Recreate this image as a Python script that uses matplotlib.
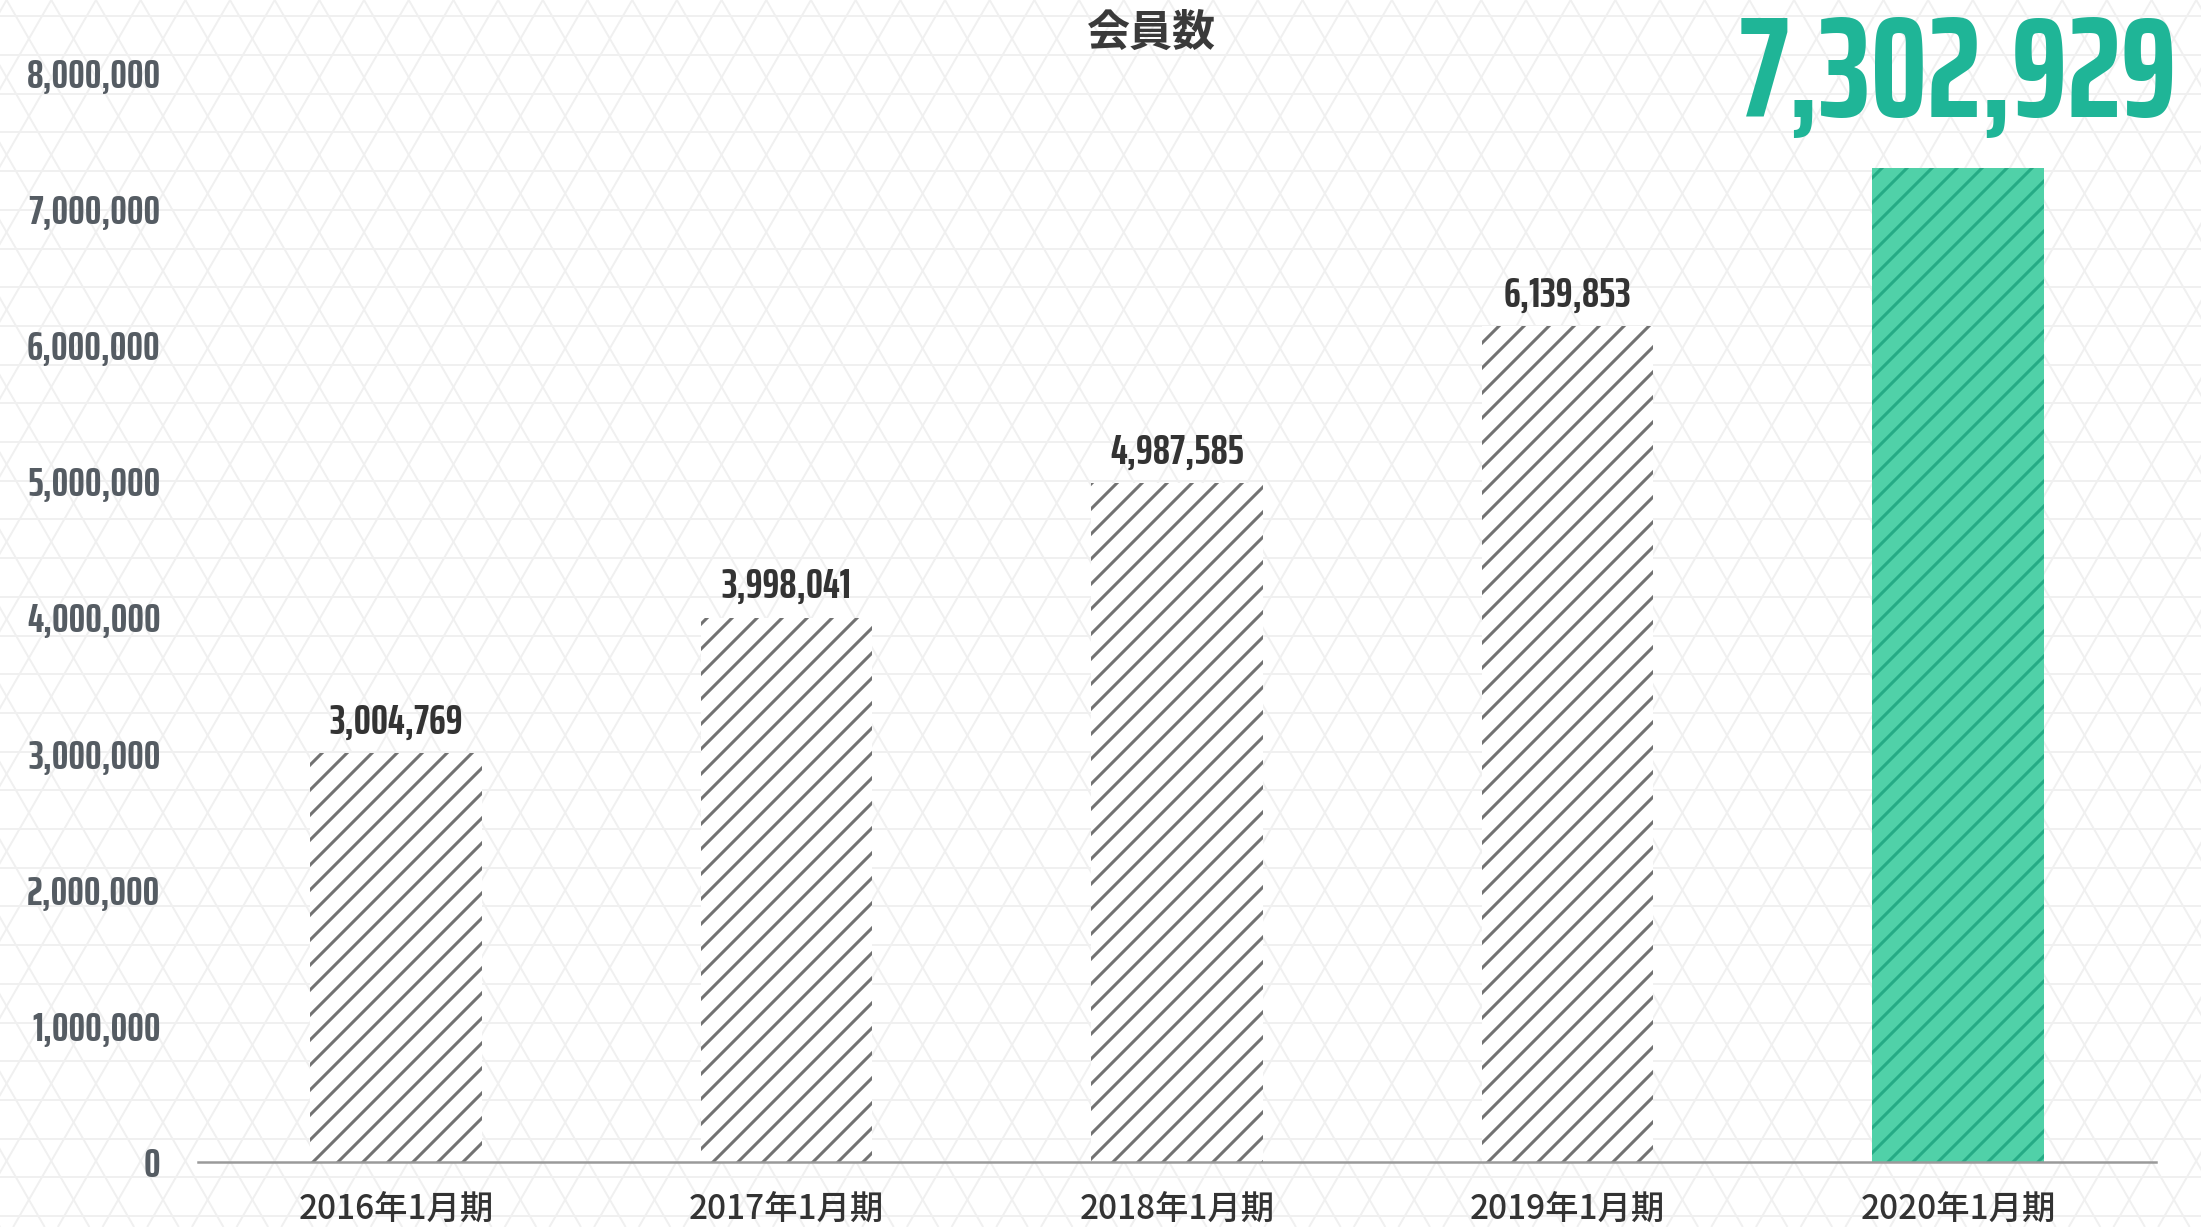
import numpy as np
import matplotlib.pyplot as plt
from matplotlib import font_manager
from matplotlib.font_manager import FontProperties
from matplotlib.textpath import TextPath
from matplotlib.collections import LineCollection
from matplotlib.patches import Rectangle
from matplotlib.backend_bases import GraphicsContextBase

periods = ["2016年1月期", "2017年1月期", "2018年1月期", "2019年1月期", "2020年1月期"]
members = [3004769, 3998041, 4987585, 6139853, 7302929]
yticks = [0, 1000000, 2000000, 3000000, 4000000, 5000000, 6000000, 7000000, 8000000]

plt.rcParams['font.family'] = ['Noto Sans CJK JP', 'DejaVu Sans']
plt.rcParams['hatch.linewidth'] = 2.2

# a single '/' hatch gives 8 stripes per tile instead of 6
_hatch_path = GraphicsContextBase.get_hatch_path
GraphicsContextBase.get_hatch_path = lambda self, density=6.0: _hatch_path(self, 8)

DPI = 100
W, H = 2201, 1227


def _shape(fp, text="7,302,929"):
    ext = TextPath((0, 0), text, size=100, prop=fp).get_extents()
    cap = TextPath((0, 0), "0", size=100, prop=fp).get_extents()
    return ext.width / cap.height


def narrow_bold(target=4.36):
    # bold condensed face whose digits have about the wanted width/height
    best = None
    for f in font_manager.fontManager.ttflist:
        if f.stretch == 'normal' and not any(w in f.name for w in ('Narrow', 'Condensed')):
            continue
        if f.style != 'normal':
            continue
        w = f.weight if isinstance(f.weight, int) else {'bold': 700, 'semibold': 600}.get(f.weight, 400)
        if w < 600:
            continue
        try:
            fp = FontProperties(fname=f.fname)
            score = abs(_shape(fp) - target) + abs(w - 700) / 200
        except Exception:
            continue
        if best is None or score < best[0]:
            best = (score, fp)
    if best:
        return best[1]
    return FontProperties(family='DejaVu Sans', weight='bold')


num_fp = narrow_bold()


def fit_size(text, width_px, cap_px, slack=1.0):
    ext = TextPath((0, 0), text, size=100, prop=num_fp).get_extents()
    cap = TextPath((0, 0), "0", size=100, prop=num_fp).get_extents()
    s_w = width_px * slack / (ext.width * DPI / 72) * 100
    s_h = cap_px / (cap.height * DPI / 72) * 100
    return min(s_w, s_h)


ytick_size = fit_size("8,000,000", 140, 29, 1.05)
label_size = fit_size("3,004,769", 144, 30, 1.15)
big_size = fit_size("7,302,929", 436, 100, 1.08)

fig = plt.figure(figsize=(W / DPI, H / DPI), dpi=DPI)
fig.patch.set_facecolor('white')

# faint triangle lattice behind everything (pixel coords)
bg = fig.add_axes([0, 0, 1, 1], zorder=-1)
bg.set_xlim(0, W)
bg.set_ylim(H, 0)
bg.axis('off')
h = 38.7
s = 2 * h / np.sqrt(3)
segs = []
for y in np.arange(55 - 2 * h, H + h, h):
    segs.append([(0, y), (W, y)])
k = s / (2 * h)
for c in np.arange(-H * k - s, W + H * k + s, s):
    segs.append([(c, 0), (c + H * k, H)])
    segs.append([(c, 0), (c - H * k, H)])
bg.add_collection(LineCollection(segs, colors='#f0f0f0', linewidths=1.4))
bg.add_patch(Rectangle((893, 0), 515, 97, facecolor='white', edgecolor='none'))

ax = fig.add_axes([198 / W, 1 - 1162 / H, (2156 - 198) / W, (1162 - 73) / H])
ax.set_facecolor('none')

x = np.arange(len(periods))
colors = ['white'] * 4 + ['#50d1a8']
hatch_cols = ['#727272'] * 4 + ['#25ab85']
for xi, v, fc, hc in zip(x, members, colors, hatch_cols):
    ax.bar(xi, v, width=0.44, facecolor=fc, edgecolor=hc, hatch='/', linewidth=0, zorder=2)

for xi, v in zip(x[:-1], members[:-1]):
    ax.annotate(f"{v:,}", (xi, v), xytext=(0, 14), textcoords='offset points',
                ha='center', va='baseline', fontproperties=num_fp, fontsize=label_size,
                color='#333333')
ax.annotate(f"{members[-1]:,}", (x[-1], members[-1]), xytext=(0, 36.5), textcoords='offset points',
            ha='center', va='baseline', fontproperties=num_fp, fontsize=big_size,
            color='#1fb597', annotation_clip=False)

ax.set_xlim(-0.507, 4.507)
ax.set_ylim(0, 8000000)
ax.set_yticks(yticks)
ax.set_yticklabels([f"{t:,}" for t in yticks], fontproperties=num_fp, fontsize=ytick_size,
                   color='#555c63')
ax.set_xticks(x)
ax.set_xticklabels(periods, fontsize=24, fontweight='medium', color='#333333')
ax.tick_params(axis='y', length=0, pad=27)
ax.tick_params(axis='x', length=0, pad=21.5)
for side in ['top', 'right', 'left']:
    ax.spines[side].set_visible(False)
ax.spines['bottom'].set_color('#9a9a9a')
ax.spines['bottom'].set_linewidth(1.8)

fig.text(1151 / W, 1 - 33 / H, "会員数", ha='center', va='center', fontsize=31,
         fontweight='bold', color='#3a3a3a')

fig.savefig('out.png', dpi=DPI)
